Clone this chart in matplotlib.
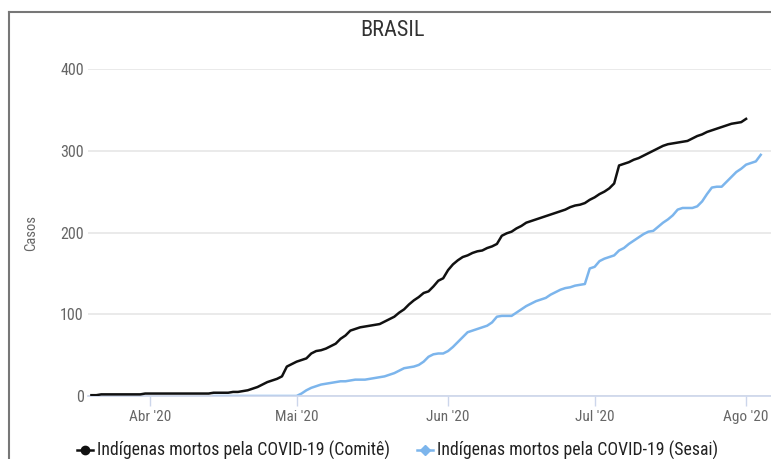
import numpy as np
import pandas as pd
import matplotlib
matplotlib.use("Agg")
import matplotlib.pyplot as plt
from matplotlib.lines import Line2D

# ==========================================
# データ
# ==========================================
comite_start = "2020-03-20"
comite = [
    # Mar 20-31
    1, 1, 2, 2, 2, 2, 2, 2, 2, 2, 2, 3,
    # Abr
    3, 3, 3, 3, 3, 3, 3, 3, 3, 3, 3, 3, 3, 4, 4, 4, 4, 5, 5, 6,
    7, 9, 11, 14, 17, 19, 21, 24, 36, 39,
    # Mai
    42, 44, 46, 52, 55, 56, 58, 61, 64, 70, 74, 80, 82, 84, 85, 86,
    87, 88, 91, 94, 97, 102, 106, 112, 117, 121, 126, 128, 134, 141, 144,
    # Jun
    154, 161, 166, 170, 172, 175, 177, 178, 181, 183, 186, 196, 199, 201, 205,
    208, 212, 214, 216, 218, 220, 222, 224, 226, 228, 231, 233, 234, 236, 240,
    # Jul
    243, 247, 250, 254, 260, 282, 284, 286, 289, 291, 294, 297, 300, 303, 306,
    308, 309, 310, 311, 312, 315, 318, 320, 323, 325, 327, 329, 331, 333, 334, 335,
    # Ago
    339,
]

sesai_start = "2020-04-14"
sesai = [
    # Abr 14-30
    0, 0, 0, 0, 0, 0, 0, 0, 0, 0, 0, 0, 0, 0, 0, 0, 0,
    # Mai
    0, 3, 7, 10, 12, 14, 15, 16, 17, 18, 18, 19, 20, 20, 20, 21,
    22, 23, 24, 26, 28, 31, 34, 35, 36, 38, 42, 48, 51, 52, 52,
    # Jun
    55, 60, 66, 72, 78, 80, 82, 84, 86, 90, 97, 98, 98, 98, 102,
    106, 110, 113, 116, 118, 120, 124, 127, 130, 132, 133, 135, 136, 137, 156,
    # Jul
    158, 165, 168, 170, 172, 178, 181, 186, 190, 194, 198, 201, 202, 207, 212,
    216, 221, 228, 230, 230, 230, 232, 238, 247, 255, 256, 256, 262, 268, 274, 278,
    # Ago
    283, 285, 287, 295,
]

month_ticks = ["2020-04-01", "2020-05-01", "2020-06-01", "2020-07-01", "2020-08-01"]
month_labels = ["Abr '20", "Mai '20", "Jun '20", "Jul '20", "Ago '20"]
y_ticks = [0, 100, 200, 300, 400]

label_comite = "Indígenas mortos pela COVID-19 (Comitê)"
label_sesai = "Indígenas mortos pela COVID-19 (Sesai)"

# ==========================================
# プロット
# ==========================================
plt.rcParams['font.family'] = ['Roboto Condensed', 'DejaVu Sans']

W, H = 771, 459
fig = plt.figure(figsize=(W / 100, H / 100), dpi=100)
fig.patch.set_facecolor("white")

# 枠線 (左と上)
fig.add_artist(Line2D([9 / W, 9 / W], [0, 1 - 12 / H], color="#777777", lw=1.5))
fig.add_artist(Line2D([9 / W, 1], [1 - 12 / H, 1 - 12 / H], color="#777777", lw=1.5))

ax = fig.add_axes([88 / W, 1 - 396 / H, 683 / W, (396 - 69) / H])

d_comite = pd.date_range(comite_start, periods=len(comite), freq="D")
d_sesai = pd.date_range(sesai_start, periods=len(sesai), freq="D")

ax.plot(d_comite, comite, color="#111111", lw=1.8, zorder=3)
ax.plot(d_sesai, sesai, color="#7cb5ec", lw=1.8, zorder=2)

x0 = pd.Timestamp("2020-04-01") - pd.Timedelta(days=12.7)
x1 = x0 + pd.Timedelta(days=139.8)
ax.set_xlim(x0, x1)
ax.set_ylim(0, 400)

ax.set_yticks(y_ticks)
ax.set_yticklabels([str(v) for v in y_ticks])
ax.set_xticks(pd.to_datetime(month_ticks))
ax.set_xticklabels(month_labels)

for s in ["top", "right", "left"]:
    ax.spines[s].set_visible(False)
ax.spines["bottom"].set_color("#ccd6eb")
ax.spines["bottom"].set_linewidth(1.2)

ax.grid(axis="y", color="#e6e6e6", lw=1.2)
ax.set_axisbelow(True)
ax.tick_params(axis="y", length=0, labelsize=11.5, labelcolor="#666666", pad=3)
ax.tick_params(axis="x", length=7, width=1, color="#ccd6eb", labelsize=11,
               labelcolor="#666666", pad=3)

ax.set_ylabel("Casos", fontsize=10.5, color="#666666", labelpad=16)

fig.text(393 / W, 1 - 31 / H, "BRASIL", ha="center", va="center",
         fontsize=16, color="#333333")

# 凡例 (手動配置)
leg_y = 1 - 450 / H
for x_m, col, mk, ms, lab in [(85, "#111111", "o", 6, label_comite),
                               (425, "#7cb5ec", "D", 5, label_sesai)]:
    fig.add_artist(Line2D([(x_m - 8) / W, (x_m + 8) / W], [leg_y, leg_y],
                          color=col, lw=1.8))
    fig.add_artist(Line2D([x_m / W], [leg_y], color=col, marker=mk,
                          markersize=ms, lw=0))
    fig.text((x_m + 12) / W, leg_y, lab, ha="left", va="center",
             fontsize=12.8, color="#222222")

fig.savefig("out.png", dpi=100, facecolor="white")
